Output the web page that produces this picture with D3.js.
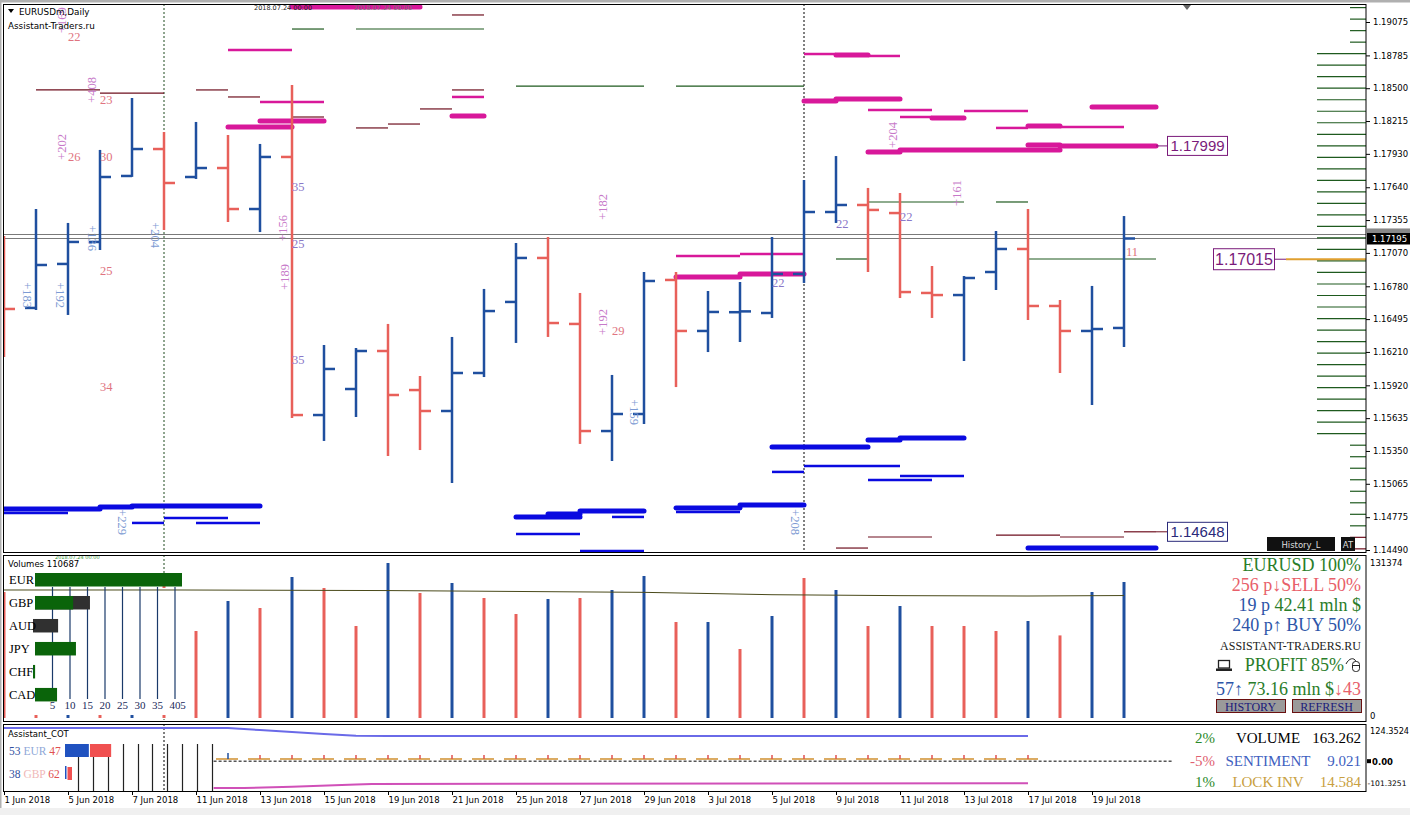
<!DOCTYPE html>
<html>
<head>
<meta charset="utf-8">
<script src="https://cdnjs.cloudflare.com/ajax/libs/d3/7.8.5/d3.min.js"></script>
<style>
body { margin: 0; background: #fff; }
svg { display: block; }
</style>
</head>
<body>
<svg id="chart" width="1410" height="815"></svg>
<script>
////////////////////
//     DATA      ///
////////////////////

// one daily bar per trading day
var dates = ["1 Jun 2018","4 Jun 2018","5 Jun 2018","6 Jun 2018","7 Jun 2018","8 Jun 2018",
  "11 Jun 2018","12 Jun 2018","13 Jun 2018","14 Jun 2018","15 Jun 2018","18 Jun 2018",
  "19 Jun 2018","20 Jun 2018","21 Jun 2018","22 Jun 2018","25 Jun 2018","26 Jun 2018",
  "27 Jun 2018","28 Jun 2018","29 Jun 2018","2 Jul 2018","3 Jul 2018","4 Jul 2018",
  "5 Jul 2018","6 Jul 2018","9 Jul 2018","10 Jul 2018","11 Jul 2018","12 Jul 2018",
  "13 Jul 2018","16 Jul 2018","17 Jul 2018","18 Jul 2018","19 Jul 2018","20 Jul 2018"];

var open  = [1.17182,1.16592,1.16974,1.17165,1.17738,1.17972,1.17729,1.17807,1.17451,1.17903,
             1.15662,1.15888,1.16218,1.15879,1.15697,1.16027,1.16644,1.17026,1.16453,1.15523,
             1.15671,1.16835,1.16392,1.16555,1.16548,1.16887,1.17425,1.17486,1.17416,1.16722,
             1.16704,1.16904,1.17104,1.16609,1.16392,1.16418];
var high  = [1.17217,1.17451,1.17330,1.17964,1.18415,1.18120,1.18207,1.18094,1.18016,1.18528,
             1.16270,1.16244,1.16453,1.16001,1.16340,1.16757,1.17156,1.17208,1.16722,1.16010,
             1.16904,1.16904,1.16739,1.16817,1.17208,1.17703,1.17911,1.17634,1.17590,1.16956,
             1.16869,1.17260,1.17451,1.16661,1.16783,1.17390];
var low   = [1.16166,1.16574,1.16531,1.17095,1.17730,1.17269,1.17712,1.17338,1.17251,1.15636,
             1.15437,1.15645,1.15306,1.15358,1.15072,1.15992,1.16288,1.16340,1.15411,1.15263,
             1.15584,1.15905,1.16209,1.16296,1.16505,1.16809,1.17330,1.16904,1.16678,1.16505,
             1.16131,1.16748,1.16487,1.16027,1.15749,1.16253];
var close = [1.16583,1.16965,1.17165,1.17729,1.17972,1.17677,1.17807,1.17451,1.17903,1.15662,
             1.16062,1.16218,1.15836,1.15697,1.16027,1.16565,1.17026,1.16461,1.15523,1.15671,
             1.16826,1.16392,1.16557,1.16562,1.16887,1.17425,1.17486,1.17443,1.16730,1.16704,
             1.16852,1.17104,1.16609,1.16392,1.16409,1.17195];

var bidPrice = 1.17195, askPrice = 1.17230;
var priceTicks = [1.19075,1.18785,1.18500,1.18215,1.17930,1.17640,1.17355,1.17070,1.16780,
                  1.16495,1.16210,1.15920,1.15635,1.15350,1.15065,1.14775,1.14490];

// level segments: [from bar, to bar, price, kind]
var levels = [
  [9,13,1.19205,"pkT"],[7,9,1.18832,"pk"],[8,10,1.18380,"pk"],[8,10,1.18215,"pkT"],[7,9,1.18163,"pkT"],
  [14,15,1.18424,"pk"],[14,15,1.18259,"pkT"],[21,23,1.17043,"pk"],[23,25,1.17060,"pk"],
  [21,23,1.16861,"pkT"],[23,25,1.16887,"pkT"],[25,26,1.18797,"pk"],[26,27,1.18788,"pkT"],
  [27,28,1.18780,"pk"],[25,26,1.18389,"pkT"],[26,28,1.18406,"pkT"],[27,29,1.18311,"pk"],
  [28,29,1.18250,"pk"],[29,30,1.18241,"pkT"],[30,32,1.18302,"pk"],[31,32,1.18155,"pk"],
  [32,33,1.18172,"pkT"],[33,35,1.18163,"pk"],[34,36,1.18337,"pkT"],[27,28,1.17946,"pkT"],
  [28,33,1.17964,"pkT"],[32,33,1.18007,"pkT"],[33,36,1.17999,"pkT"],
  [1,3,1.18485,"dr"],[3,5,1.18458,"dr"],[6,7,1.18485,"dr"],[7,8,1.18424,"dr"],[9,10,1.18250,"dr"],
  [11,12,1.18155,"dr"],[12,13,1.18189,"dr"],[13,14,1.18320,"dr"],[14,15,1.18485,"dr"],
  [14,15,1.19136,"dr"],[26,27,1.14507,"dr"],[27,29,1.14603,"dr"],[31,33,1.14620,"dr"],
  [33,35,1.14603,"dr"],[35,36,1.14648,"dr"],
  [9,10,1.19014,"gr"],[11,15,1.19014,"gr"],[16,20,1.18519,"gr"],[21,25,1.18519,"gr"],
  [27,30,1.17512,"gr"],[31,32,1.17512,"gr"],[26,27,1.17017,"gr"],[32,36,1.17017,"gr"],
  [0,3,1.14846,"blT"],[3,4,1.14863,"blT"],[4,8,1.14872,"blT"],[0,2,1.14811,"bl"],
  [4,5,1.14725,"bl"],[5,7,1.14768,"bl"],[6,8,1.14725,"bl"],
  [16,18,1.14777,"blT"],[17,18,1.14803,"blT"],[18,20,1.14829,"blT"],[19,20,1.14777,"bl"],
  [16,18,1.14629,"bl"],[18,20,1.14481,"bl"],[21,23,1.14855,"blT"],[23,25,1.14881,"blT"],
  [21,23,1.14820,"bl"],[24,27,1.15384,"blT"],[27,28,1.15445,"blT"],[28,30,1.15463,"blT"],
  [24,25,1.15168,"bl"],[25,28,1.15219,"bl"],[27,29,1.15098,"bl"],[28,30,1.15133,"bl"],
  [32,36,1.14507,"blT"]
];

// chart notes: [bar, price, text, kind]
var notes = [
  [1.81,1.19092,"+169","rv"],[2.0,1.18910,"22","hs"],[2.75,1.18485,"+408","rv"],[3.0,1.18363,"23","hs"],
  [1.81,1.17990,"+202","rv"],[2.0,1.17868,"26","hs"],[3.0,1.17868,"30","hs"],[9.0,1.17607,"35","hp"],
  [8.72,1.17286,"+156","rv"],[9.0,1.17113,"25","hp"],[2.75,1.17199,"+136","rb"],[4.72,1.17225,"+204","rb"],
  [3.0,1.16878,"25","hs"],[8.78,1.16861,"+189","rv"],[0.72,1.16704,"+183","rb"],[1.75,1.16704,"+192","rb"],
  [9.0,1.16105,"35","hp"],[3.0,1.15871,"34","hs"],[3.69,1.14733,"+229","rb"],[18.72,1.17469,"+182","rv"],
  [18.72,1.16470,"+192","rv"],[19.0,1.16357,"29","hs"],[19.69,1.15688,"+159","rb"],[24.0,1.16774,"22","hp"],
  [24.72,1.14733,"+208","rb"],[27.78,1.18094,"+204","rv"],[26.0,1.17286,"22","hp"],[28.0,1.17347,"22","hp"],
  [29.78,1.17590,"+161","rv"],[35.06,1.17043,"11","hs"]
];

// price boxes
var priceBoxes = [[1.17999,"1.17999"],[1.14648,"1.14648"]];
var targetPrice = 1.17015;

// right-hand ladder of levels
var ladderShort = [1.192,1.191,1.190,1.189,1.154,1.153,1.152,1.151,1.150,1.149,1.148,1.147];
var ladderLong  = [1.188,1.187,1.186,1.185,1.184,1.183,1.182,1.181,1.180,1.179,1.178,1.177,
                   1.176,1.175,1.174,1.173,1.172,1.171,1.170,1.169,1.168,1.167,1.166,1.165,
                   1.164,1.163,1.162,1.161,1.160,1.159,1.158,1.157,1.156,1.155];
var ladderRed   = [1.146,1.145];

// volumes
var volumes = [106800,100000,92000,105000,98000,112000,73740,99170,93240,119510,
               110190,77980,131370,105950,114430,101710,88150,100860,101710,108490,
               120360,81370,81370,58480,86460,118660,108490,77980,94930,77980,
               77980,73740,82220,70000,106800,115270];
var volUp   = [0,0,1,0,1,0,0,1,0,1,0,0,1,0,1,0,0,1,0,1,1,0,1,0,1,0,1,0,1,0,0,0,1,0,1,1];
var volAvg  = [[0,108500],[5.5,108500],[12,108000],[20,106500],[24,104500],[28,103700],[32,103400],[35,103800]];
var volMax = 131374;

// currency strength
var currencies = ["EUR","GBP","AUD","JPY","CHF","CAD"];
var strengthMain = [42,10.9,0,11.7,0.6,6.3];
var strengthAlt  = [0,15.7,6.6,0,0,0];
var strengthTicks = [5,10,15,20,25,30,35,40];

// COT
var cotVolume = [[0,120.7],[7,120.7],[8,113],[9,106],[10,99],[11,92.5],[12,91.8],[32,91.6]];
var cotLock   = [[6.55,-97.7],[7.5,-97.7],[9,-93],[11,-85],[11.5,-83.1],[32,-80]];
var cotSentBars = [7,8,9,10,11,12,13,14,15,16,17,18,19,20,21,22,23,24,25,26,27,28,29,30,31,32];
var cotSent = 7.9, cotSentTop = 22;
var cotMax = 124.3524, cotMin = -101.3251;

////////////////////
//    DRAWING    ///
////////////////////
var svg = d3.select("#chart");
var axisX = 1366;
var serif = "'Liberation Serif', serif";
var small = "'DejaVu Sans', sans-serif";

var blue = "#1f4f9f", red = "#e8605a";
var levelStyle = {
  pk:  {c: "#d8189a", w: 2.5},
  pkT: {c: "#d8189a", w: 5},
  dr:  {c: "#6e0f1e", w: 1.2},
  gr:  {c: "#1e5a1e", w: 1.2},
  bl:  {c: "#0a0ae0", w: 2.5},
  blT: {c: "#0a0ae0", w: 5}
};

var x = d3.scaleLinear().domain([0, 35]).range([4, 1124]);
var y = d3.scaleLinear().domain([1.14490, 1.19075]).range([550, 22]);
var yVol = d3.scaleLinear().domain([0, volMax]).range([718, 563]);
var yCot = d3.scaleLinear().domain([cotMin, cotMax]).range([789, 727]);

svg.append("rect").attr("width", 1410).attr("height", 815).attr("fill", "#fff");
svg.append("rect").attr("width", 1410).attr("height", 2.5).attr("fill", "#b0b0b0");
svg.append("rect").attr("y", 808).attr("width", 1410).attr("height", 7).attr("fill", "#f0f0f0");
svg.append("rect").attr("width", 1.5).attr("height", 808).attr("fill", "#b0b0b0");

var defs = svg.append("defs");
defs.append("clipPath").attr("id", "clipMain").append("rect")
  .attr("x", 4).attr("y", 5).attr("width", axisX - 4).attr("height", 547);
defs.append("clipPath").attr("id", "clipVol").append("rect")
  .attr("x", 4).attr("y", 556).attr("width", axisX - 4).attr("height", 164);
defs.append("clipPath").attr("id", "clipCot").append("rect")
  .attr("x", 4).attr("y", 724).attr("width", axisX - 4).attr("height", 67);

//////// main panel
var main = svg.append("g").attr("clip-path", "url(#clipMain)");

[askPrice, bidPrice].forEach(function(p) {
  main.append("line").attr("x1", 4).attr("x2", axisX)
    .attr("y1", Math.round(y(p)) + 0.5).attr("y2", Math.round(y(p)) + 0.5)
    .attr("stroke", "#7a7a7a").attr("stroke-width", 1.2);
});

main.append("line").attr("x1", x(5)).attr("x2", x(5)).attr("y1", 4).attr("y2", 552)
  .attr("stroke", "#1e4a1e").attr("stroke-dasharray", "2,2");
main.append("line").attr("x1", x(25)).attr("x2", x(25)).attr("y1", 4).attr("y2", 552)
  .attr("stroke", "#000").attr("stroke-dasharray", "2,2");

main.selectAll(".lvl").data(levels).enter().append("line")
  .attr("x1", function(d) { return x(d[0]); })
  .attr("x2", function(d) { return x(d[1]); })
  .attr("y1", function(d) { return y(d[2]); })
  .attr("y2", function(d) { return y(d[2]); })
  .attr("stroke", function(d) { return levelStyle[d[3]].c; })
  .attr("stroke-width", function(d) { return levelStyle[d[3]].w; })
  .attr("stroke-linecap", function(d) { return levelStyle[d[3]].w > 3 ? "round" : "butt"; });

// top object labels
main.append("text").attr("x", 254).attr("y", 10).text("2018.07.24 00:00")
  .style("font-family", small).style("font-size", "6.5px").attr("fill", "#222");
main.append("text").attr("x", 354).attr("y", 10).text("2018.07.24 00:00")
  .style("font-family", small).style("font-size", "6.5px").attr("fill", "#777");

// OHLC bars
var bars = main.selectAll(".bar").data(d3.range(dates.length)).enter().append("g")
  .attr("stroke", function(i) { return close[i] >= open[i] ? blue : red; })
  .attr("stroke-width", 2.5);
bars.append("line")
  .attr("x1", function(i) { return x(i); }).attr("x2", function(i) { return x(i); })
  .attr("y1", function(i) { return y(high[i]); }).attr("y2", function(i) { return y(low[i]); });
bars.append("line")
  .attr("x1", function(i) { return x(i) - 11; }).attr("x2", function(i) { return x(i); })
  .attr("y1", function(i) { return y(open[i]); }).attr("y2", function(i) { return y(open[i]); });
bars.append("line")
  .attr("x1", function(i) { return x(i); }).attr("x2", function(i) { return x(i) + 11; })
  .attr("y1", function(i) { return y(close[i]); }).attr("y2", function(i) { return y(close[i]); });

// notes
var noteColor = {rv: "#c77ac9", rb: "#7d9bd3", hs: "#e07480", hp: "#8a78c8"};
notes.forEach(function(n) {
  var t = main.append("text").text(n[2])
    .style("font-family", serif).style("font-size", "12.5px")
    .attr("fill", noteColor[n[3]]);
  if (n[3] == "rv" || n[3] == "rb") {
    t.attr("text-anchor", "middle").attr("dominant-baseline", "central")
     .attr("transform", "translate(" + x(n[0]) + "," + y(n[1]) + ") rotate(" + (n[3] == "rv" ? -90 : 90) + ")");
  } else {
    t.attr("x", x(n[0])).attr("y", y(n[1]));
  }
});

// title
main.append("path").attr("d", "M8,9 L14,9 L11,13 Z").attr("fill", "#000");
main.append("text").attr("x", 19).attr("y", 15).text("EURUSDm,Daily")
  .style("font-family", small).style("font-size", "8.8px").attr("fill", "#000");
main.append("text").attr("x", 8).attr("y", 29).text("Assistant-Traders.ru")
  .style("font-family", small).style("font-size", "8.8px").attr("fill", "#000");
main.append("path").attr("d", "M1183,5 L1191,5 L1187,10 Z").attr("fill", "#666");

// ladder
main.selectAll(".ls").data(ladderShort).enter().append("line")
  .attr("x1", 1350).attr("x2", axisX).attr("y1", function(d) { return y(d); }).attr("y2", function(d) { return y(d); })
  .attr("stroke", "#1e5a1e").attr("stroke-width", 1.2);
main.selectAll(".ll").data(ladderLong).enter().append("line")
  .attr("x1", 1317).attr("x2", axisX).attr("y1", function(d) { return y(d); }).attr("y2", function(d) { return y(d); })
  .attr("stroke", "#1e5a1e").attr("stroke-width", 1.2);
main.selectAll(".lr").data(ladderRed).enter().append("line")
  .attr("x1", 1350).attr("x2", axisX).attr("y1", function(d) { return y(d); }).attr("y2", function(d) { return y(d); })
  .attr("stroke", "#6e0f1e").attr("stroke-width", 1.2);

// price boxes
priceBoxes.forEach(function(b, k) {
  var yy = y(b[0]);
  var col = k == 0 ? "#7a1a7a" : "#2a2a7a";
  main.append("line").attr("x1", x(36)).attr("x2", 1167).attr("y1", yy).attr("y2", yy)
    .attr("stroke", k == 0 ? "#7a1a7a" : "#6e0f1e");
  main.append("rect").attr("x", 1167.5).attr("y", yy - 9.5).attr("width", 60).attr("height", 19)
    .attr("fill", "#fff").attr("stroke", col);
  main.append("text").attr("x", 1197.5).attr("y", yy + 5.5).attr("text-anchor", "middle").text(b[1])
    .style("font-family", "'Liberation Sans', sans-serif").style("font-size", "15px").attr("fill", col);
});
var yt = y(targetPrice);
main.append("line").attr("x1", 1274).attr("x2", 1286).attr("y1", yt).attr("y2", yt).attr("stroke", "#7a1a7a");
main.append("line").attr("x1", 1286).attr("x2", axisX).attr("y1", yt).attr("y2", yt)
  .attr("stroke", "#e0a030").attr("stroke-width", 2);
main.append("rect").attr("x", 1213.5).attr("y", yt - 10.5).attr("width", 61).attr("height", 21)
  .attr("fill", "#fff").attr("stroke", "#7a1a7a");
main.append("text").attr("x", 1244).attr("y", yt + 6).attr("text-anchor", "middle").text("1.17015")
  .style("font-family", "'Liberation Sans', sans-serif").style("font-size", "16px").attr("fill", "#7a1a7a");

// buttons bottom right
main.append("rect").attr("x", 1267).attr("y", 537).attr("width", 68).attr("height", 14).attr("fill", "#111");
main.append("text").attr("x", 1301).attr("y", 547.5).attr("text-anchor", "middle").text("History_L")
  .style("font-family", small).style("font-size", "8.5px").attr("fill", "#ddd");
main.append("rect").attr("x", 1341).attr("y", 537).attr("width", 14).attr("height", 14).attr("fill", "#111");
main.append("text").attr("x", 1348).attr("y", 547.5).attr("text-anchor", "middle").text("AT")
  .style("font-family", small).style("font-size", "8.5px").attr("fill", "#ddd");

// price axis
var pAxis = svg.append("g").attr("transform", "translate(" + axisX + ",0)")
  .call(d3.axisRight(y).tickValues(priceTicks).tickSize(4).tickPadding(3).tickFormat(d3.format(".5f")));
pAxis.select(".domain").remove();
pAxis.selectAll("text").style("font-family", small).style("font-size", "8.5px").attr("fill", "#000");
svg.append("rect").attr("x", axisX + 1).attr("y", y(askPrice) - 6).attr("width", 44).attr("height", 8).attr("fill", "#888");
svg.append("rect").attr("x", axisX + 1).attr("y", y(bidPrice) - 5.5).attr("width", 44).attr("height", 11.5).attr("fill", "#000");
svg.append("text").attr("x", axisX + 6).attr("y", y(bidPrice) + 3.5).text(d3.format(".5f")(bidPrice))
  .style("font-family", small).style("font-size", "8.5px").attr("fill", "#fff");

//////// volume panel
var vol = svg.append("g").attr("clip-path", "url(#clipVol)");
vol.append("line").attr("x1", x(5)).attr("x2", x(5)).attr("y1", 555).attr("y2", 720)
  .attr("stroke", "#1e4a1e").attr("stroke-dasharray", "2,2");
vol.selectAll(".vb").data(volumes).enter().append("line")
  .attr("x1", function(d, i) { return x(i); }).attr("x2", function(d, i) { return x(i); })
  .attr("y1", yVol(0)).attr("y2", function(d) { return yVol(d); })
  .attr("stroke", function(d, i) { return volUp[i] ? blue : red; })
  .attr("stroke-width", 3);

// strength overlay
vol.append("rect").attr("x", 8).attr("y", 588).attr("width", 178).attr("height", 127).attr("fill", "#fff");
vol.append("path")
  .datum(volAvg)
  .attr("d", d3.line().x(function(d) { return x(d[0]); }).y(function(d) { return yVol(d[1]); }))
  .attr("fill", "none").attr("stroke", "#4a4a1a").attr("stroke-width", 1);

var sx = d3.scaleLinear().domain([0, 40]).range([35, 175]);
vol.selectAll(".st").data(strengthTicks).enter().append("line")
  .attr("x1", function(d) { return sx(d); }).attr("x2", function(d) { return sx(d); })
  .attr("y1", 587).attr("y2", 699).attr("stroke", "#1a3a6a").attr("stroke-width", 1.2);
vol.selectAll(".stl").data(strengthTicks).enter().append("text")
  .attr("x", function(d) { return sx(d); }).attr("y", 709).attr("text-anchor", "middle")
  .text(function(d) { return d; })
  .style("font-family", serif).style("font-size", "11px").attr("fill", "#1a2a5a");
vol.append("text").attr("x", sx(40) + 8).attr("y", 709).attr("text-anchor", "middle").text("5")
  .style("font-family", serif).style("font-size", "11px").attr("fill", "#1a2a5a");

var rowY = d3.scaleBand().domain(currencies).range([573, 701.5]).paddingInner(0.41);
currencies.forEach(function(c, k) {
  var top = rowY(c), h = 13.5;
  if (strengthAlt[k] > 0)
    vol.append("rect").attr("x", strengthMain[k] > 0 ? sx(0) : sx(0) - 2).attr("y", top)
      .attr("width", sx(strengthAlt[k]) - sx(0) + (strengthMain[k] > 0 ? 0 : 2)).attr("height", h).attr("fill", "#303030");
  if (strengthMain[k] > 0)
    vol.append("rect").attr("x", k == 4 ? sx(0) - 2 : sx(0)).attr("y", top)
      .attr("width", Math.max(2, sx(strengthMain[k]) - sx(0))).attr("height", h).attr("fill", "#0a640a");
  vol.append("text").attr("x", 9).attr("y", top + 11).text(c)
    .style("font-family", serif).style("font-size", "12.5px").attr("fill", "#000");
});
vol.append("text").attr("x", 8).attr("y", 567).text("Volumes 110687")
  .style("font-family", small).style("font-size", "8.5px").attr("fill", "#000");
vol.append("text").attr("x", 55).attr("y", 559).text("2018.07.24 00:00")
  .style("font-family", small).style("font-size", "5px").attr("fill", "#3a9a3a");

// info block
function infoLine(yy, parts, size, anchorX) {
  var t = svg.append("text").attr("x", anchorX || 1361).attr("y", yy).attr("text-anchor", "end")
    .style("font-family", serif).style("font-size", (size || 18) + "px");
  parts.forEach(function(p) { t.append("tspan").text(p[0]).attr("fill", p[1]); });
  return t;
}
var gInfo = "#2a7d2a", bInfo = "#2d55a8", rInfo = "#e8606a";
infoLine(571, [["EURUSD 100%", gInfo]]);
infoLine(591, [["256 p\u2193SELL 50%", rInfo]]);
infoLine(611, [["19 p  ", bInfo], ["42.41 mln $", gInfo]]);
infoLine(631, [["240 p\u2191 BUY 50%", bInfo]]);
infoLine(650, [["ASSISTANT-TRADERS.RU", "#222"]], 12);
infoLine(671, [["PROFIT 85%", gInfo]], 18, 1344);
infoLine(695, [["57\u2191 ", bInfo], ["73.16 mln $", gInfo], ["\u219343", rInfo]]);
// laptop and mouse icons
svg.append("rect").attr("x", 1218.5).attr("y", 660.5).attr("width", 11).attr("height", 7.5)
  .attr("fill", "#fff").attr("stroke", "#222").attr("stroke-width", 1.3);
svg.append("rect").attr("x", 1216).attr("y", 668.5).attr("width", 16).attr("height", 2.5).attr("fill", "#222");
svg.append("rect").attr("x", 1352.5).attr("y", 661.5).attr("width", 7).attr("height", 10).attr("rx", 3)
  .attr("fill", "none").attr("stroke", "#222");
svg.append("path").attr("d", "M1356,661.5 C1354,657 1349,658 1346,664").attr("fill", "none").attr("stroke", "#222");
svg.append("line").attr("x1", 1353).attr("x2", 1360).attr("y1", 665.5).attr("y2", 665.5).attr("stroke", "#222");

[["HISTORY", 1216, 69], ["REFRESH", 1292, 69]].forEach(function(b) {
  svg.append("rect").attr("x", b[1] + 0.5).attr("y", 699.5).attr("width", b[2]).attr("height", 13)
    .attr("fill", "#9a9a9a").attr("stroke", "#6a1010");
  svg.append("text").attr("x", b[1] + b[2] / 2).attr("y", 710.5).attr("text-anchor", "middle").text(b[0])
    .style("font-family", serif).style("font-size", "12px").attr("fill", "#1a1a7a");
});

// volume axis
svg.append("text").attr("x", 1370).attr("y", 566).text(volMax)
  .style("font-family", small).style("font-size", "8.5px").attr("fill", "#000");
svg.append("text").attr("x", 1370).attr("y", 719).text("0")
  .style("font-family", small).style("font-size", "8.5px").attr("fill", "#000");

//////// COT panel
var cot = svg.append("g").attr("clip-path", "url(#clipCot)");
cot.append("line").attr("x1", x(5)).attr("x2", x(5)).attr("y1", 724).attr("y2", 791)
  .attr("stroke", "#000").attr("stroke-dasharray", "2,2");
cot.append("path").datum(cotVolume)
  .attr("d", d3.line().x(function(d) { return x(d[0]); }).y(function(d) { return yCot(d[1]); }))
  .attr("fill", "none").attr("stroke", "#6a6ae8").attr("stroke-width", 2);
cot.append("path").datum(cotLock)
  .attr("d", d3.line().x(function(d) { return x(d[0]); }).y(function(d) { return yCot(d[1]); }))
  .attr("fill", "none").attr("stroke", "#d050b8").attr("stroke-width", 2);
cot.append("line").attr("x1", x(6.55)).attr("x2", x(36.53)).attr("y1", yCot(0)).attr("y2", yCot(0))
  .attr("stroke", "#000").attr("stroke-dasharray", "3,2");
cot.selectAll(".cs").data(cotSentBars).enter().append("line")
  .attr("x1", function(d) { return x(d) - 12; }).attr("x2", function(d) { return x(d) + 10; })
  .attr("y1", yCot(cotSent)).attr("y2", yCot(cotSent))
  .attr("stroke", "#d09030").attr("stroke-width", 1.5);
cot.selectAll(".ct").data(cotSentBars).enter().append("line")
  .attr("x1", function(d) { return x(d); }).attr("x2", function(d) { return x(d); })
  .attr("y1", yCot(cotSent)).attr("y2", function(d, k) { return yCot(k == 0 ? cotSentTop + 8 : cotSentTop); })
  .attr("stroke", function(d, k) { return k == 0 ? "#1f4f9f" : "#e05050"; }).attr("stroke-width", 1.5);

cot.append("text").attr("x", 8).attr("y", 737).text("Assistant_COT")
  .style("font-family", small).style("font-size", "8.5px").attr("fill", "#000");
// histogram lines behind pair boxes
var cotLinesX = d3.scaleLinear().domain([0, 9]).range([78, 212]);
d3.range(10).forEach(function(k) {
  cot.append("line").attr("x1", Math.round(cotLinesX(k)) + 0.5).attr("x2", Math.round(cotLinesX(k)) + 0.5)
    .attr("y1", cotLinesX(k) < 112 ? 757 : 744).attr("y2", 791).attr("stroke", "#222").attr("stroke-width", 1.2);
});
var pairRows = [["53", "EUR", "47", 744, "#90a8d8"], ["38", "GBP", "62", 767, "#f0b8b8"]];
var pairScale = d3.scaleLinear().domain([0, 100]).range([0, 45]);
pairRows.forEach(function(r) {
  var t = cot.append("text").attr("x", 9).attr("y", r[3] + 10.5).style("font-family", serif).style("font-size", "11.5px");
  t.append("tspan").text(r[0] + " ").attr("fill", "#3050a0");
  t.append("tspan").text(r[1] + " ").attr("fill", r[4]);
  t.append("tspan").text(r[2]).attr("fill", "#e05050");
});
cot.append("rect").attr("x", 65).attr("y", 744).attr("width", pairScale(53)).attr("height", 13).attr("fill", "#2052c0");
cot.append("rect").attr("x", 90).attr("y", 744).attr("width", pairScale(47)).attr("height", 13).attr("fill", "#f05050");
cot.append("rect").attr("x", 65).attr("y", 766).attr("width", 1.5).attr("height", 13).attr("fill", "#2052c0");
cot.append("rect").attr("x", 67.5).attr("y", 767).attr("width", 4.5).attr("height", 13).attr("fill", "#f05050");

var cotText = [
  [743, "2%", "#2a8a2a", "VOLUME", "#000", "163.262", "#000"],
  [766, "-5%", "#e06070", "SENTIMENT", "#4060c0", "9.021", "#4060c0"],
  [787, "1%", "#2a8a2a", "LOCK INV", "#c8a040", "14.584", "#c8a040"]
];
cotText.forEach(function(r) {
  svg.append("text").attr("x", 1215).attr("y", r[0]).attr("text-anchor", "end").text(r[1])
    .style("font-family", serif).style("font-size", "15px").attr("fill", r[2]);
  svg.append("text").attr("x", 1268).attr("y", r[0]).attr("text-anchor", "middle").text(r[3])
    .style("font-family", serif).style("font-size", "15px").attr("fill", r[4]);
  svg.append("text").attr("x", 1361).attr("y", r[0]).attr("text-anchor", "end").text(r[5])
    .style("font-family", serif).style("font-size", "15px").attr("fill", r[6]);
});

svg.append("text").attr("x", 1370).attr("y", 734).text(cotMax)
  .style("font-family", small).style("font-size", "8.2px").attr("fill", "#000");
svg.append("rect").attr("x", 1367).attr("y", yCot(0) - 2).attr("width", 4).attr("height", 4).attr("fill", "#000");
svg.append("text").attr("x", 1372).attr("y", yCot(0) + 3.5).text("0.00")
  .style("font-family", small).style("font-size", "8.5px").style("font-weight", "bold").attr("fill", "#000");
svg.append("text").attr("x", 1367.5).attr("y", 786).text(cotMin)
  .style("font-family", small).style("font-size", "7.6px").attr("fill", "#000");

//////// borders
[[4, 552], [555, 721], [724, 791]].forEach(function(p) {
  svg.append("rect").attr("x", 3.5).attr("y", p[0] + 0.5).attr("width", axisX - 3.5).attr("height", p[1] - p[0])
    .attr("fill", "none").attr("stroke", "#000").attr("stroke-width", 1);
});

// date axis
var dAxis = svg.append("g").attr("transform", "translate(0,791)")
  .call(d3.axisBottom(x).tickValues(d3.range(0, 35, 2)).tickSize(4).tickPadding(2)
    .tickFormat(function(i) { return dates[i]; }));
dAxis.select(".domain").remove();
dAxis.selectAll("text").attr("text-anchor", "start").attr("dx", "0px")
  .style("font-family", small).style("font-size", "8.5px").attr("fill", "#000");
</script>
</body>
</html>
